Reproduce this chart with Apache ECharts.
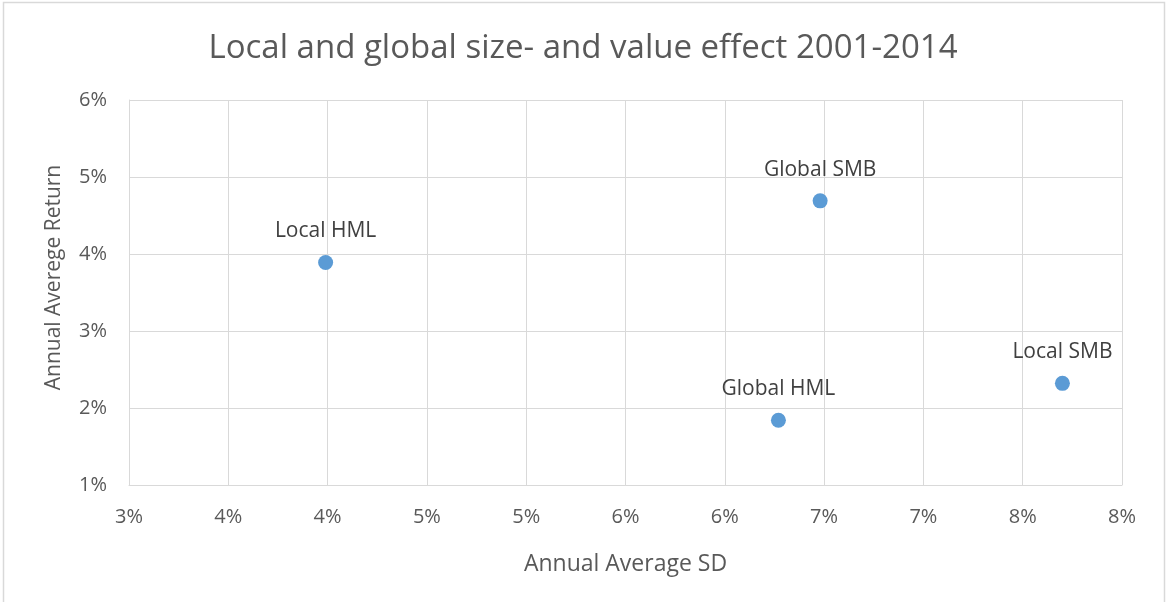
<!DOCTYPE html>
<html>
<head>
<meta charset="utf-8">
<script src="https://cdn.jsdelivr.net/npm/echarts@6/dist/echarts.min.js"></script>
<style>
  html, body { margin: 0; padding: 0; background: #fff; }
  #chart { width: 1166px; height: 602px; }
</style>
</head>
<body>
<div id="chart"></div>
<script>
// Factor names and their annual average SD / return (in %)
const factorNames = ['Local HML', 'Global SMB', 'Global HML', 'Local SMB'];
const annualSD = [3.99, 6.48, 6.27, 7.70];
const annualReturn = [3.89, 4.69, 1.84, 2.32];

// Axis tick labels (whole-percent rounding of the 0.5% steps)
const xTickLabels = ['3%', '4%', '4%', '5%', '5%', '6%', '6%', '7%', '7%', '8%', '8%'];
const yTickLabels = ['1%', '2%', '3%', '4%', '5%', '6%'];

const points = factorNames.map((name, i) => ({ name, value: [annualSD[i], annualReturn[i]] }));

const textColor = '#595959';
const gridColor = '#d9d9d9';
const fontFamily = '"Open Sans", sans-serif';

const chart = echarts.init(document.getElementById('chart'), null, { renderer: 'canvas' });
chart.setOption({
  backgroundColor: '#fff',
  animation: false,
  textStyle: { fontFamily },
  title: {
    text: 'Local and global size- and value effect 2001-2014',
    left: 'center',
    top: 27,
    textStyle: { color: textColor, fontSize: 33, fontWeight: 'normal', fontFamily }
  },
  graphic: [{
    type: 'rect',
    shape: { x: 3.5, y: 2.5, width: 1161, height: 700 },
    style: { fill: 'none', stroke: gridColor, lineWidth: 1.5 },
    silent: true
  }],
  grid: { left: 129, top: 100, width: 993, height: 385, containLabel: false },
  xAxis: {
    type: 'value',
    min: 3, max: 8, interval: 0.5,
    name: 'Annual Average SD',
    nameLocation: 'middle',
    nameGap: 68,
    nameTextStyle: { color: textColor, fontSize: 23, fontFamily },
    axisLine: { show: true, lineStyle: { color: gridColor, width: 1 } },
    axisTick: { show: false },
    splitLine: { show: true, lineStyle: { color: gridColor, width: 1 } },
    axisLabel: {
      color: textColor, fontSize: 20, fontFamily, margin: 22,
      formatter: (v, i) => xTickLabels[Math.round((v - 3) / 0.5)]
    }
  },
  yAxis: {
    type: 'value',
    min: 1, max: 6, interval: 1,
    name: 'Annual Averege Return',
    nameLocation: 'middle',
    nameGap: 64,
    nameTextStyle: { color: textColor, fontSize: 21, fontFamily, padding: [0, 0, 0, 30] },
    axisLine: { show: true, lineStyle: { color: gridColor, width: 1 } },
    axisTick: { show: false },
    splitLine: { show: true, lineStyle: { color: gridColor, width: 1 } },
    axisLabel: {
      color: textColor, fontSize: 20, fontFamily, margin: 22,
      formatter: (v) => yTickLabels[Math.round(v - 1)]
    }
  },
  series: [{
    type: 'scatter',
    data: points,
    symbol: 'circle',
    symbolSize: 15,
    itemStyle: { color: '#5b9bd5', opacity: 1 },
    label: {
      show: true,
      position: 'top',
      distance: 13,
      formatter: (p) => p.name,
      color: '#404040',
      fontSize: 21,
      fontFamily
    }
  }]
});
</script>
</body>
</html>
